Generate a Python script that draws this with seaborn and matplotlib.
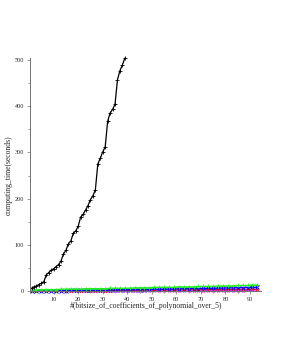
import numpy as np
import pandas as pd
import seaborn as sns
import matplotlib
matplotlib.use('Agg')
import matplotlib.pyplot as plt
from matplotlib.ticker import MultipleLocator

# black series: one point per bitsize 1..39
black_time = [6, 9, 11, 14, 17, 20, 35, 40, 45, 48, 53, 57, 65, 80, 88, 102, 108, 125, 130,
              140, 160, 166, 175, 185, 198, 206, 219, 275, 287, 301, 312, 367, 385, 393, 404,
              457, 477, 489, 504]

# the fast series, sampled every second bitsize 1, 3, ..., 93
green_time = [2, 2, 3, 3, 3, 3, 4, 4, 4, 4, 4, 5, 5, 5, 5, 5, 6, 6, 6, 6, 6, 7, 7, 7,
              7, 8, 8, 8, 8, 8, 9, 9, 9, 9, 10, 10, 10, 10, 11, 11, 11, 11, 12, 12, 12, 13, 13]
blue_time = [0.5, 0.5, 0.6, 0.7, 0.8, 0.9, 1.0, 1.1, 1.2, 1.3, 1.4, 1.5, 1.6, 1.7, 1.8, 2.0,
             2.1, 2.2, 2.4, 2.5, 2.7, 2.8, 3.0, 3.1, 3.3, 3.5, 3.7, 3.9, 4.1, 4.3, 4.5, 4.7,
             4.9, 5.1, 5.3, 5.5, 5.7, 5.9, 6.1, 6.3, 6.6, 6.8, 7.0, 7.2, 7.5, 7.8, 8.0]
red_time = [0.2, 0.2, 0.3, 0.3, 0.4, 0.4, 0.5, 0.5, 0.6, 0.6, 0.7, 0.8, 0.8, 0.9, 1.0, 1.0,
            1.1, 1.2, 1.3, 1.3, 1.4, 1.5, 1.6, 1.7, 1.8, 1.9, 2.0, 2.1, 2.2, 2.3, 2.4, 2.5,
            2.6, 2.7, 2.8, 2.9, 3.0, 3.1, 3.2, 3.3, 3.4, 3.5, 3.6, 3.7, 3.8, 3.9, 4.0]
magenta_time = [-1.0, -1.0, -0.9, -0.9, -0.8, -0.8, -0.7, -0.7, -0.6, -0.6, -0.5, -0.5, -0.4,
                -0.4, -0.3, -0.3, -0.2, -0.2, -0.1, -0.1, 0.0, 0.0, 0.1, 0.1, 0.2, 0.2, 0.3,
                0.3, 0.4, 0.4, 0.5, 0.5, 0.6, 0.6, 0.7, 0.7, 0.8, 0.8, 0.9, 0.9, 1.0, 1.0,
                1.1, 1.1, 1.2, 1.2, 1.3]

black_x = list(range(1, len(black_time) + 1))
fast_x = list(range(1, 2 * len(green_time) + 1, 2))

sns.set_style('white')
plt.rcParams['font.family'] = ['Liberation Serif', 'DejaVu Serif']

fig = plt.figure(figsize=(2.81, 3.63), dpi=100)
ax = fig.add_axes([0.107, 0.1945, 0.822, 0.6465])

series = [(fast_x, magenta_time, '#ff66ff', 'x', 2, 0.8),
          (fast_x, red_time, '#ff0000', 'x', 2, 0.8),
          (fast_x, blue_time, '#0000ff', 'x', 2.5, 1.0),
          (fast_x, green_time, '#22ee22', '+', 3.5, 1.0),
          (black_x, black_time, 'black', '+', 3, 0.9)]
for xs, ys, col, mk, ms, lw in series:
    sns.lineplot(x=xs, y=ys, color=col, marker=mk, markersize=ms, markeredgewidth=0.6,
                 markeredgecolor=col, linewidth=lw, ax=ax, clip_on=False)

ax.set_xlim(0.4, 94.5)
ax.set_ylim(-3, 505)
for s in ['top', 'right']:
    ax.spines[s].set_visible(False)
ax.spines['bottom'].set_position(('data', 0))
for s in ['left', 'bottom']:
    ax.spines[s].set_color('0.45')
    ax.spines[s].set_linewidth(0.7)

ax.xaxis.set_major_locator(MultipleLocator(10))
ax.xaxis.set_minor_locator(MultipleLocator(5))
ax.yaxis.set_major_locator(MultipleLocator(100))
ax.yaxis.set_minor_locator(MultipleLocator(50))
ax.set_xticks([10, 20, 30, 40, 50, 60, 70, 80, 90])
ax.tick_params(which='both', direction='out', color='0.45', width=0.5, labelsize=4.5, pad=2,
               bottom=True, left=True)
ax.tick_params(which='major', length=2.5)
ax.tick_params(which='minor', length=1.5)

ax.set_xlabel('#(bitsize_of_coefficients_of_polynomial_over_5)', fontsize=5.5, labelpad=0)
ax.set_ylabel('computing_time(seconds)', fontsize=5.5, labelpad=1)

fig.savefig('out.png', dpi=100)
